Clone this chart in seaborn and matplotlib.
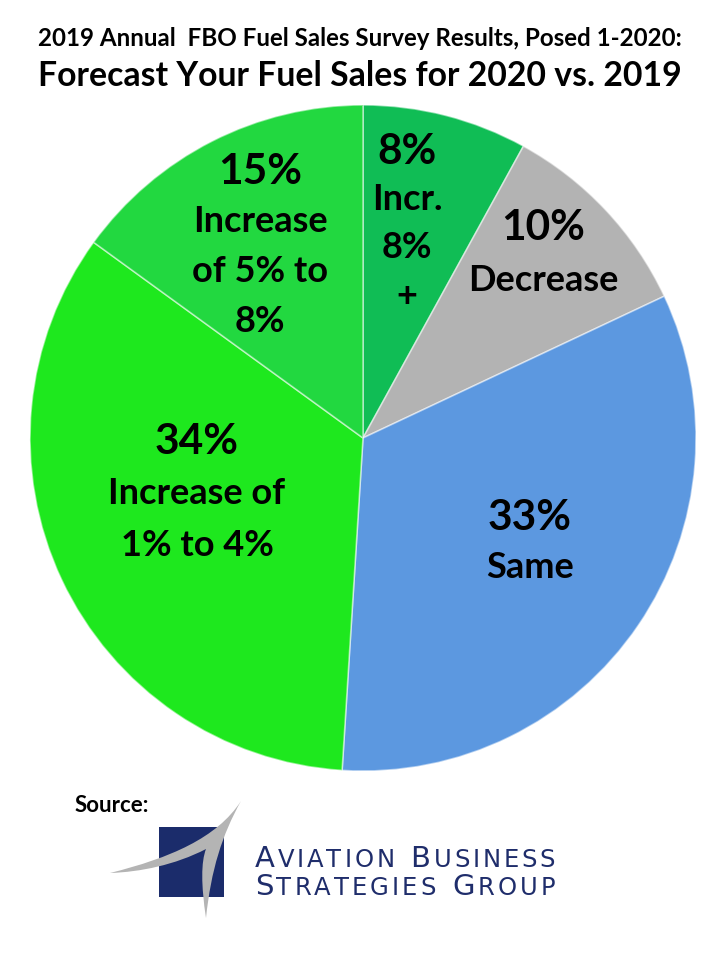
import matplotlib
matplotlib.use("Agg")
import matplotlib.pyplot as plt
import seaborn as sns
import numpy as np
from matplotlib.path import Path
from matplotlib.patches import PathPatch, Rectangle

# ---- data ----
categories = ["Incr. 8% +", "Decrease", "Same", "Increase of 1% to 4%", "Increase of 5% to 8%"]
shares = [8, 10, 33, 34, 15]
label_lines = [
    ["8%", "Incr.", "8%", "+"],
    ["10%", "Decrease"],
    ["33%", "Same"],
    ["34%", "Increase of", "1% to 4%"],
    ["15%", "Increase", "of 5% to", "8%"],
]
colors = ["#10BD55", "#B3B3B3", "#5C98E0", "#1EE81E", "#22D840"]
title1 = "2019 Annual  FBO Fuel Sales Survey Results, Posed 1-2020:"
title2 = "Forecast Your Fuel Sales for 2020 vs. 2019"

sns.set_theme(style="white")
plt.rcParams["font.family"] = ["Lato", "DejaVu Sans"]

W, H = 720, 960
fig = plt.figure(figsize=(7.2, 9.6), dpi=100)
fig.patch.set_facecolor("white")
renderer = fig.canvas.get_renderer()

cx, cy, R = 363, 438, 333
ax = fig.add_axes([(cx - R) / W, (H - cy - R) / H, 2 * R / W, 2 * R / H])
wedges, _ = ax.pie(shares, colors=colors, startangle=90, counterclock=False,
                   radius=1.0,
                   wedgeprops=dict(edgecolor=(1, 1, 1, 0.5), linewidth=1.2))
ax.set_xlim(-1, 1)
ax.set_ylim(-1, 1)
ax.set_aspect("equal")
ax.axis("off")

# label anchor points (pixel positions of the first line and line step)
anchors = [(407, 152, 48), (543, 228, 52), (530, 518, 50), (197, 442, 52), (260, 172, 50)]
for lines, (px, py, step) in zip(label_lines, anchors):
    for i, s in enumerate(lines):
        size = 30.5 if i == 0 else 26
        fig.text(px / W, 1 - (py + i * step) / H, s, ha="center", va="center",
                 fontsize=size, fontweight="bold", color="black")


def fitted_text(xc, y, s, width, size0, **kw):
    t = fig.text(xc / W, 1 - y / H, s, ha="center", va="center",
                 fontsize=size0, **kw)
    w = t.get_window_extent(renderer=renderer).width
    t.set_fontsize(size0 * width / w)
    return t


fitted_text(360, 38, title1, 644, 16, fontweight="bold", color="black")
fitted_text(360, 76, title2, 645, 23, fontweight="bold", color="black")

# ---- source logo ----
fig.text(75 / W, 1 - 805 / H, "Source:", ha="left", va="center",
         fontsize=16, fontweight="bold", color="black")

lax = fig.add_axes([0, 0, 1, 1], zorder=5)
lax.set_xlim(0, W)
lax.set_ylim(H, 0)
lax.axis("off")
lax.patch.set_alpha(0)
lax.add_patch(Rectangle((159, 827), 65, 70, facecolor="#1B2C6B", edgecolor="none"))
verts = [(110, 873),
         (170, 858), (217, 838), (241, 801),
         (222, 835), (211, 870), (206, 918),
         (201, 885), (201, 862), (206, 849),
         (175, 865), (140, 872), (110, 873),
         (110, 873)]
codes = [Path.MOVETO,
         Path.CURVE4, Path.CURVE4, Path.CURVE4,
         Path.CURVE4, Path.CURVE4, Path.CURVE4,
         Path.CURVE4, Path.CURVE4, Path.CURVE4,
         Path.CURVE4, Path.CURVE4, Path.CURVE4,
         Path.CLOSEPOLY]
lax.add_patch(PathPatch(Path(verts, codes), facecolor="#B4B4B4", edgecolor="none"))

navy = "#1F2D6B"


def small_caps(x, y, text, width, big=20, small=16.5):
    pieces = []
    first = True
    for ch in text:
        if ch == " ":
            pieces.append((ch, small))
            first = True
            continue
        pieces.append((ch, big if first else small))
        first = False
    arts = []
    widths = []
    for ch, sz in pieces:
        t = lax.text(0, y, ch if ch != " " else "n", fontsize=sz, color=navy,
                     family="DejaVu Sans", fontweight="normal",
                     ha="left", va="baseline")
        w = t.get_window_extent(renderer=renderer).width
        if ch == " ":
            t.remove()
            t = None
            w = w * 0.7
        arts.append(t)
        widths.append(w)
    natural = sum(widths)
    gap = (width - natural) / (len(pieces) - 1)
    cur = x
    for t, w in zip(arts, widths):
        if t is not None:
            t.set_x(cur)
        cur += w + gap


small_caps(255, 867, "AVIATION BUSINESS", 300, big=21, small=17.5)
small_caps(255, 895, "STRATEGIES GROUP", 300, big=21, small=17.5)

fig.savefig("out.png", dpi=100, facecolor="white")
